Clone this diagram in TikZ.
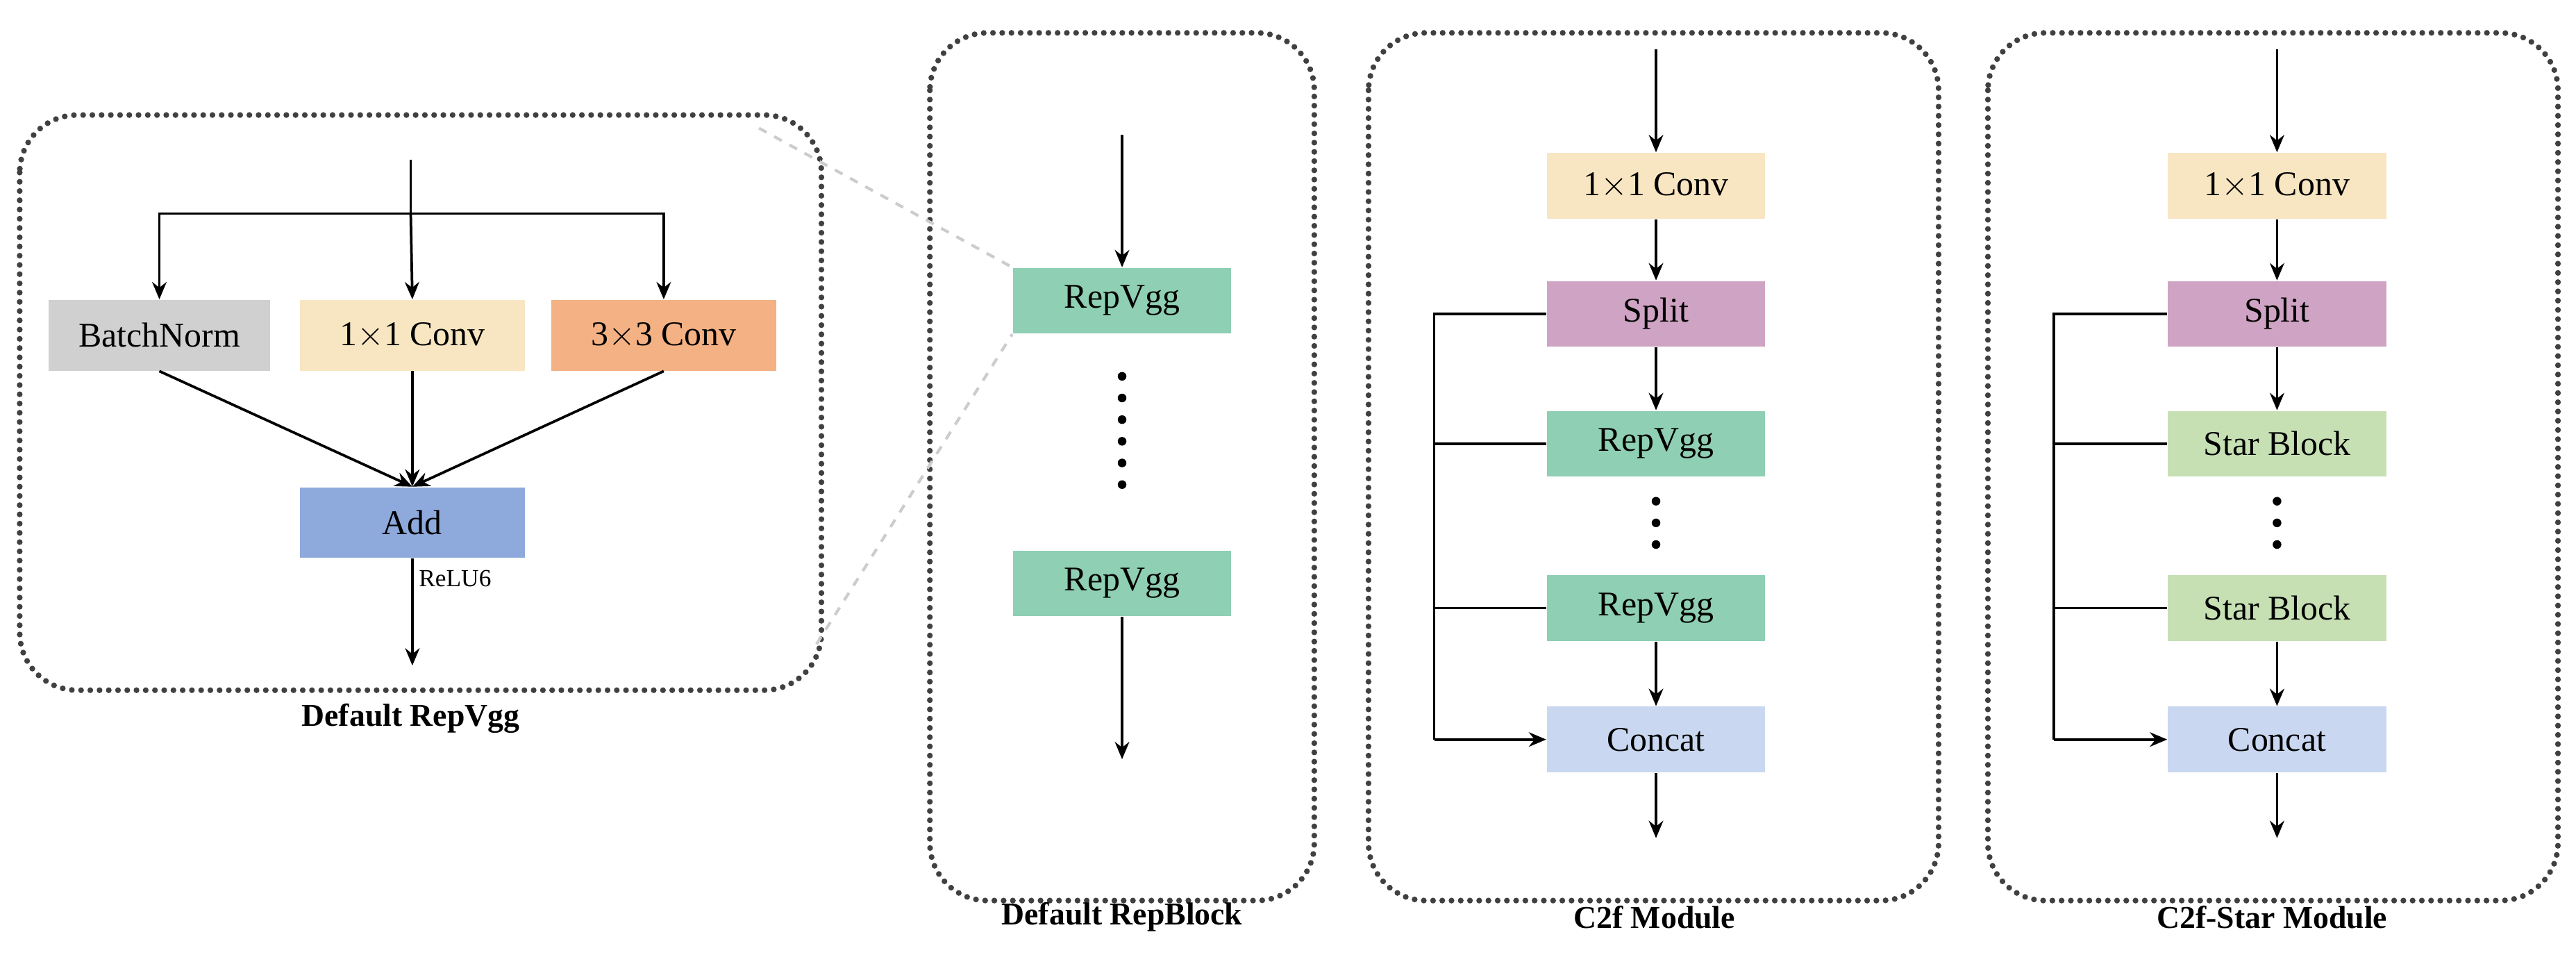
\documentclass[tikz,border=0pt]{standalone}
\usepackage{fontspec}
\setmainfont{Liberation Serif}
\usetikzlibrary{arrows.meta}
\definecolor{cream}{HTML}{F8E6C2}
\definecolor{rgreen}{HTML}{8FCFB4}
\definecolor{rpurple}{HTML}{CFA3C3}
\definecolor{lblue}{HTML}{C9D8F0}
\definecolor{lgray}{HTML}{D0D0D0}
\definecolor{rorange}{HTML}{F4B183}
\definecolor{rblue}{HTML}{8EA9DB}
\definecolor{lgreen}{HTML}{C6E0B4}
\begin{document}
\begin{tikzpicture}[x=0.02cm,y=-0.02cm,
  blk/.style={minimum width=2.66cm,minimum height=0.8cm,inner sep=0pt,font=\fontsize{12}{14}\selectfont},
  frame/.style={draw=black!75,line width=2pt,line cap=round,dash pattern=on 0pt off 3.2pt,rounded corners=0.7cm},
  vdots/.style={line width=3pt,line cap=round,dash pattern=on 0pt off 7.5pt},
  arr/.style={-{Stealth[length=6pt,width=5pt]},line width=0.9pt},
  ln/.style={line width=0.9pt},
  ttl/.style={font=\bfseries\fontsize{11}{13}\selectfont}]
\useasboundingbox (0,0) rectangle (1568,581);
% frames
\draw[frame] (12,70) rectangle (500,420);
\draw[frame] (566,20) rectangle (800,548);
\draw[frame] (833,20) rectangle (1180,548);
\draw[frame] (1210,20) rectangle (1557,548);
\node[ttl] at (250,437) {Default RepVgg};
\node[ttl] at (683,558) {Default RepBlock};
\node[ttl] at (1007,558) {C2f Module};
\node[ttl] at (1383,558) {C2f-Star Module};
% frame 1
\coordinate (in1) at (250,97);
\coordinate (bus1) at (250,130);
\node[blk,fill=lgray,minimum width=2.7cm,minimum height=0.86cm] (bn) at (97,204) {BatchNorm};
\node[blk,fill=cream,minimum width=2.74cm,minimum height=0.86cm] (c11) at (251,204) {1$\times$1 Conv};
\node[blk,fill=rorange,minimum width=2.74cm,minimum height=0.86cm] (c33) at (404,204) {3$\times$3 Conv};
\node[blk,fill=rblue,minimum width=2.74cm,minimum height=0.86cm] (add) at (251,318) {Add};
\node[font=\fontsize{8.5}{10}\selectfont] (relu) at (277,352) {ReLU6};
\coordinate (out1) at (251,405);
\draw[ln] (in1) -- (bus1);
\draw[arr] (bus1) -| (bn.north);
\draw[arr] (bus1) -| (c33.north);
\draw[arr] (bus1) -- (c11.north);
\draw[arr] (bn.south) -- (add.north);
\draw[arr] (c11.south) -- (add.north);
\draw[arr] (c33.south) -- (add.north);
\draw[arr] (add.south) -- (out1);
% frame 2
\coordinate (in2) at (683,82);
\node[blk,fill=rgreen] (rv1) at (683,183) {RepVgg};
\node[blk,fill=rgreen] (rv2) at (683,355) {RepVgg};
\coordinate (out2) at (683,462);
\draw[arr] (in2) -- (rv1.north);
\draw[vdots] (683,229) -- (683,305);
\draw[arr] (rv2.south) -- (out2);
\draw[gray!40,dashed,line width=1pt] (462,78) -- (rv1.north west);
\draw[gray!40,dashed,line width=1pt] (497,392) -- (rv1.south west);
% frame 3
\coordinate (in3) at (1008,30);
\node[blk,fill=cream] (a1) at (1008,113) {1$\times$1 Conv};
\node[blk,fill=rpurple] (a2) at (1008,191) {Split};
\node[blk,fill=rgreen] (a3) at (1008,270) {RepVgg};
\node[blk,fill=rgreen] (a4) at (1008,370) {RepVgg};
\node[blk,fill=lblue] (a5) at (1008,450) {Concat};
\coordinate (out3) at (1008,510);
\coordinate (l3) at (873,450);
\draw[arr] (in3) -- (a1.north);
\draw[arr] (a1.south) -- (a2.north);
\draw[arr] (a2.south) -- (a3.north);
\draw[vdots] (1008,305) -- (1008,335);
\draw[arr] (a4.south) -- (a5.north);
\draw[arr] (a5.south) -- (out3);
\draw[ln] (a2.west) -| (l3);
\draw[arr] (l3) -- (a5.west);
\draw[ln] (873,270) -- (a3.west);
\draw[ln] (873,370) -- (a4.west);
% frame 4
\coordinate (in4) at (1386,30);
\node[blk,fill=cream] (b1) at (1386,113) {1$\times$1 Conv};
\node[blk,fill=rpurple] (b2) at (1386,191) {Split};
\node[blk,fill=lgreen] (b3) at (1386,270) {Star Block};
\node[blk,fill=lgreen] (b4) at (1386,370) {Star Block};
\node[blk,fill=lblue] (b5) at (1386,450) {Concat};
\coordinate (out4) at (1386,510);
\coordinate (l4) at (1250,450);
\draw[arr] (in4) -- (b1.north);
\draw[arr] (b1.south) -- (b2.north);
\draw[arr] (b2.south) -- (b3.north);
\draw[vdots] (1386,305) -- (1386,335);
\draw[arr] (b4.south) -- (b5.north);
\draw[arr] (b5.south) -- (out4);
\draw[ln] (b2.west) -| (l4);
\draw[arr] (l4) -- (b5.west);
\draw[ln] (1250,270) -- (b3.west);
\draw[ln] (1250,370) -- (b4.west);
\end{tikzpicture}
\end{document}
